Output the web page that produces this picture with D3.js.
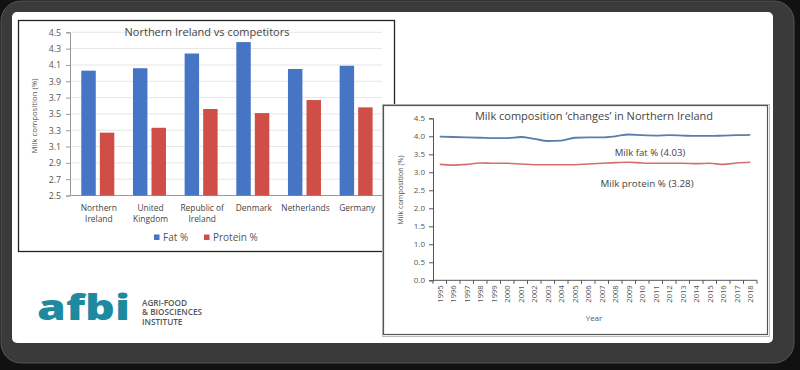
<!DOCTYPE html>
<html><head><meta charset="utf-8">
<script src="https://cdn.jsdelivr.net/npm/d3@7"></script>
<style>html,body{margin:0;padding:0;background:#111;overflow:hidden}text{font-family:"Open Sans",Lato,sans-serif}</style>
</head><body><svg id="c" width="800" height="370"></svg>
<script>
// ---- Data: bar chart ----
const countries = ["Northern Ireland","United Kingdom","Republic of Ireland","Denmark","Netherlands","Germany"];
const countryLabels = [["Northern","Ireland"],["United","Kingdom"],["Republic of","Ireland"],["Denmark"],["Netherlands"],["Germany"]];
const seriesKeys = ["Fat %","Protein %"];
const fatPct = [4.03,4.06,4.24,4.38,4.05,4.09];
const proteinPct = [3.27,3.33,3.56,3.51,3.67,3.58];
const barTicks = [2.5,2.7,2.9,3.1,3.3,3.5,3.7,3.9,4.1,4.3,4.5];
// ---- Data: line chart ----
const years = ["1995","1996","1997","1998","1999","2000","2001","2002","2003","2004","2005","2006","2007","2008","2009","2010","2011","2012","2013","2014","2015","2016","2017","2018"];
const fatTrend = [3.99,3.98,3.97,3.96,3.95,3.95,3.98,3.93,3.87,3.88,3.96,3.97,3.97,4.00,4.05,4.03,4.02,4.03,4.02,4.01,4.01,4.02,4.03,4.04];
const proteinTrend = [3.22,3.20,3.22,3.26,3.25,3.25,3.23,3.21,3.21,3.21,3.21,3.23,3.25,3.27,3.28,3.26,3.25,3.25,3.25,3.24,3.25,3.22,3.26,3.28];
const lineTicks = [0,0.5,1.0,1.5,2.0,2.5,3.0,3.5,4.0,4.5];
const fatLabel = "Milk fat % (4.03)";
const proteinLabel = "Milk protein % (3.28)";

const svg = d3.select("#c");
const BLUE = "#4575c4", RED = "#cf4f48";

// Slide frame
svg.append("rect").attr("x",1).attr("y",1).attr("width",793).attr("height",362).attr("rx",20)
  .attr("fill","#3a3a3a").attr("stroke","#555");
svg.append("rect").attr("x",12).attr("y",12).attr("width",761).attr("height",331).attr("rx",5).attr("fill","#fff");

// ===== Left bar chart =====
svg.append("rect").attr("x",18.5).attr("y",20.5).attr("width",376).attr("height",231)
  .attr("fill","#fff").attr("stroke","#222").attr("stroke-width",1.3);
const yB = d3.scaleLinear().domain([2.5,4.5]).range([195.5,32.3]);
const x0 = d3.scaleBand().domain(countries).range([72,382]);
const x1 = d3.scaleBand().domain(seriesKeys).range([9.3,42.3]).paddingInner(0.22);
const gB = svg.append("g");
gB.append("g").selectAll("line").data(barTicks.slice(1)).join("line")
  .attr("x1",70).attr("x2",382).attr("y1",d=>yB(d)).attr("y2",d=>yB(d)).attr("stroke","#e6e6e6");
const yAxB = gB.append("g").attr("transform","translate(70,0)")
  .call(d3.axisLeft(yB).tickValues(barTicks).tickFormat(d3.format(".1f")).tickSize(4).tickPadding(5));
yAxB.select(".domain").attr("stroke","#999");
yAxB.selectAll(".tick line").attr("stroke","#999");
yAxB.selectAll("text").attr("font-size",8.8).attr("fill","#555");
gB.append("line").attr("x1",70).attr("x2",382).attr("y1",yB(2.5)).attr("y2",yB(2.5)).attr("stroke","#999");
const rows = countries.map((c,i)=>({c, vals:[fatPct[i],proteinPct[i]]}));
gB.append("g").selectAll("g").data(rows).join("g").attr("transform",d=>`translate(${x0(d.c)},0)`)
  .selectAll("rect").data(d=>d.vals.map((v,j)=>({k:seriesKeys[j],v}))).join("rect")
  .attr("x",d=>x1(d.k)).attr("width",x1.bandwidth())
  .attr("y",d=>yB(d.v)).attr("height",d=>yB(2.5)-yB(d.v))
  .attr("fill",d=>d.k===seriesKeys[0]?BLUE:RED);
countries.forEach((c,i)=>{
  const cx = x0(c)+x0.bandwidth()/2+1;
  const t = gB.append("text").attr("x",cx).attr("y",211)
    .attr("text-anchor","middle").attr("font-size",8.4).attr("fill","#444");
  countryLabels[i].forEach((l,j)=>t.append("tspan").attr("x",cx).attr("dy",j?10.5:0).text(l));
});
gB.append("text").attr("x",207).attr("y",35.5).attr("text-anchor","middle").attr("font-size",11).attr("fill","#444")
  .text("Northern Ireland vs competitors");
gB.append("text").attr("transform","translate(37,116) rotate(-90)").attr("text-anchor","middle")
  .attr("font-size",7.8).attr("fill","#555").text("Milk composition (%)");
// legend
const leg = gB.append("g");
[[154,"Fat %",BLUE],[204,"Protein %",RED]].forEach(([lx,l,c])=>{
  leg.append("rect").attr("x",lx).attr("y",234.5).attr("width",5.5).attr("height",5.5).attr("fill",c);
  leg.append("text").attr("x",lx+9).attr("y",241).attr("font-size",10).attr("fill","#555").text(l);
});

// ===== Logo =====
svg.append("text").attr("x",37).attr("y",320).attr("font-size",36).attr("font-weight",800)
  .attr("fill","#1d8aa0").attr("textLength",93).attr("lengthAdjust","spacingAndGlyphs").text("afbi");
["AGRI-FOOD","& BIOSCIENCES","INSTITUTE"].forEach((t,i)=>
  svg.append("text").attr("x",142).attr("y",305.5+i*9.8).attr("font-size",8.2).attr("font-weight",600)
    .attr("fill","#555").text(t));

// ===== Right line chart =====
svg.append("rect").attr("x",382.5).attr("y",104.5).attr("width",387).attr("height",232)
  .attr("fill","none").attr("stroke","#bbb").attr("stroke-width",1);
svg.append("rect").attr("x",383.5).attr("y",105.5).attr("width",384).attr("height",229)
  .attr("fill","#fff").attr("stroke","#555").attr("stroke-width",1.2);
const yL = d3.scaleLinear().domain([0,4.5]).range([280.3,118.3]);
const xL = d3.scaleBand().domain(years).range([433,757]);
const gL = svg.append("g");
const yAxL = gL.append("g").attr("transform","translate(433,0)")
  .call(d3.axisLeft(yL).tickValues(lineTicks).tickFormat(d3.format(".1f")).tickSize(4).tickPadding(4));
yAxL.select(".domain").attr("stroke","#555");
yAxL.selectAll(".tick line").attr("stroke","#555");
yAxL.selectAll("text").attr("font-size",8).attr("fill","#555");
gL.append("line").attr("x1",433).attr("x2",757).attr("y1",yL(0)).attr("y2",yL(0)).attr("stroke","#555");
gL.append("g").selectAll("line").data(d3.range(years.length+1)).join("line")
  .attr("x1",i=>433+i*xL.step()).attr("x2",i=>433+i*xL.step()).attr("y1",yL(0)).attr("y2",yL(0)+3.5).attr("stroke","#555");
gL.append("g").selectAll("text").data(years).join("text")
  .attr("transform",d=>`translate(${xL(d)+xL.bandwidth()/2+2.8},${yL(0)+5}) rotate(-90)`)
  .attr("text-anchor","end").attr("font-size",7.6).attr("fill","#555").text(d=>d);
const line = d3.line().x((d,i)=>xL(years[i])+xL.bandwidth()/2).y(d=>yL(d)).curve(d3.curveMonotoneX);
gL.append("path").attr("d",line(fatTrend)).attr("fill","none").attr("stroke","#5a7fa8").attr("stroke-width",1.8);
gL.append("path").attr("d",line(proteinTrend)).attr("fill","none").attr("stroke","#d4706c").attr("stroke-width",1.6);
gL.append("text").attr("x",594).attr("y",120).attr("text-anchor","middle").attr("font-size",11).attr("fill","#444")
  .text("Milk composition \u2018changes\u2019 in Northern Ireland");
gL.append("text").attr("x",650).attr("y",155.5).attr("text-anchor","middle").attr("font-size",9.6).attr("fill","#444").text(fatLabel);
gL.append("text").attr("x",647).attr("y",186.5).attr("text-anchor","middle").attr("font-size",9.8).attr("fill","#444").text(proteinLabel);
gL.append("text").attr("x",594).attr("y",320.5).attr("text-anchor","middle").attr("font-size",8).attr("fill","#555").text("Year");
gL.append("text").attr("transform","translate(403,190) rotate(-90)").attr("text-anchor","middle")
  .attr("font-size",7.2).attr("fill","#555").text("Milk composition (%)");
</script></body></html>
